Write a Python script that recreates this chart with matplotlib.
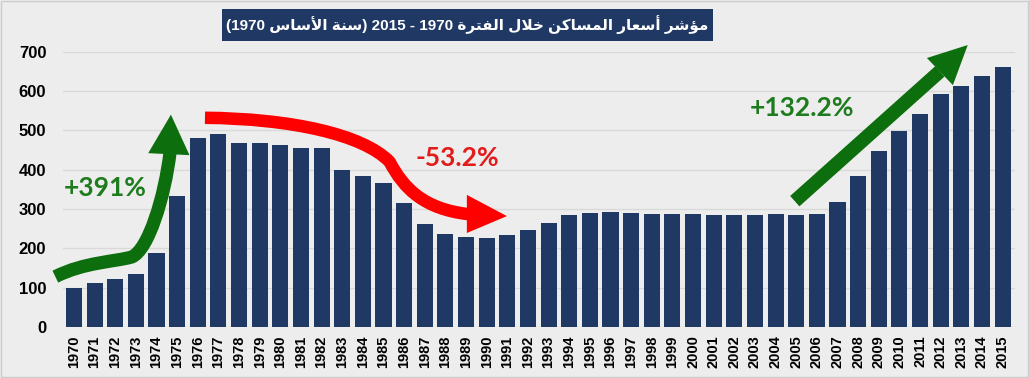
import matplotlib
matplotlib.use("Agg")
import matplotlib.pyplot as plt
import numpy as np
from matplotlib.path import Path
from matplotlib.patches import PathPatch, Polygon, Rectangle

# housing price index, base year 1970 = 100
years = list(range(1970, 2016))
index_values = [100, 112, 123, 135, 189, 333, 481, 491, 468, 468,
                463, 456, 456, 399, 385, 366, 315, 263, 237, 230,
                226, 235, 247, 264, 286, 290, 292, 290, 287, 287,
                287, 285, 285, 285, 287, 285, 287, 318, 384, 447,
                499, 541, 592, 613, 638, 661]

y_ticks = [0, 100, 200, 300, 400, 500, 600, 700]
title = "مؤشر أسعار المساكن خلال الفترة 1970 - 2015 (سنة الأساس 1970)"
labels = ["+391%", "-53.2%", "+132.2%"]

NAVY = "#203864"
BG = "#ededed"
GREEN = "#0d6e0d"
RED = "#ff0000"

# --- tiny arabic shaper (matplotlib has no text shaping) ---
# char -> (isolated form code, dual joining?)
AR = {
    "ا": (0xFE8D, False), "أ": (0xFE83, False), "ؤ": (0xFE85, False),
    "ر": (0xFEAD, False), "ة": (0xFE93, False), "ت": (0xFE95, True),
    "خ": (0xFEA5, True), "س": (0xFEB1, True), "ش": (0xFEB5, True),
    "ع": (0xFEC9, True), "ف": (0xFED1, True), "ك": (0xFED9, True),
    "ل": (0xFEDD, True), "م": (0xFEE1, True), "ن": (0xFEE5, True),
}
LAM_ALEF = {"ا": 0xFEFB, "أ": 0xFEF7}


def shape_arabic(text):
    toks = []
    i = 0
    while i < len(text):
        c = text[i]
        if c == "ل" and i + 1 < len(text) and text[i + 1] in LAM_ALEF:
            toks.append(("LA", LAM_ALEF[text[i + 1]], False))
            i += 2
            continue
        if c in AR:
            toks.append(("AR", AR[c][0], AR[c][1]))
        else:
            toks.append(("X", c, False))
        i += 1
    out = []
    for k, (kind, base, dual) in enumerate(toks):
        if kind == "X":
            out.append(base)
            continue
        prev_joins = k > 0 and toks[k - 1][0] != "X" and toks[k - 1][2]
        next_joins = dual and k + 1 < len(toks) and toks[k + 1][0] != "X"
        if prev_joins and next_joins:
            form = 3
        elif next_joins:
            form = 2
        elif prev_joins:
            form = 1
        else:
            form = 0
        out.append(chr(base + form))
    s = "".join(out)[::-1]
    # put digit runs back in LTR order, mirror brackets
    res, run = "", ""
    for ch in s:
        if ch.isdigit():
            run += ch
        else:
            res += run[::-1] + ch
            run = ""
    res += run[::-1]
    return res.translate(str.maketrans("()", ")("))


fig = plt.figure(figsize=(10.29, 3.78), dpi=100, facecolor=BG)
ax = fig.add_axes([0.0612, 0.1349, 0.9252, 0.7283])
ax.set_facecolor(BG)

x = np.arange(len(years))
ax.bar(x, index_values, width=0.78, color=NAVY, zorder=2)

ax.set_xlim(-0.53, 45.6)
ax.set_ylim(0, 700)
ax.set_yticks(y_ticks)
ax.set_yticklabels([str(v) for v in y_ticks], fontsize=12, fontweight="bold",
                   family="Liberation Sans")
ax.set_xticks(x)
ax.set_xticklabels([str(y) for y in years], rotation=90, fontsize=10.5,
                   fontweight="bold", family="Liberation Sans")
ax.tick_params(length=0, pad=6)
ax.tick_params(axis="y", pad=12)
ax.grid(axis="y", color="#d9d9d9", lw=1, zorder=0)
for s in ax.spines.values():
    s.set_visible(False)

# arrows (shaft as thick path, head as triangle)
def shaft(verts, codes, color, lw):
    p = PathPatch(Path(verts, codes), fill=False, edgecolor=color, lw=lw,
                  capstyle="butt", joinstyle="round", zorder=5, clip_on=False)
    ax.add_patch(p)

def head(pts, color):
    ax.add_patch(Polygon(pts, closed=True, facecolor=color, edgecolor="none",
                         zorder=6, clip_on=False))

C4 = Path.CURVE4
shaft([(-0.9, 128), (0.5, 165), (2.0, 166), (2.8, 178),
       (3.6, 195), (4.4, 330), (4.66, 445)],
      [Path.MOVETO, C4, C4, C4, C4, C4, C4], GREEN, 9.5)
head([(3.6, 442), (5.6, 437), (4.70, 540)], GREEN)

shaft([(6.35, 532), (10.5, 530), (14.0, 490), (15.3, 420),
       (16.0, 350), (17.0, 300), (19.1, 287)],
      [Path.MOVETO, C4, C4, C4, C4, C4, C4], RED, 9)
head([(19.04, 336), (19.04, 239), (20.98, 282)], RED)

shaft([(34.93, 320), (41.96, 650)], [Path.MOVETO, Path.LINETO], GREEN, 10)
head([(41.33, 684), (42.59, 615), (43.31, 717)], GREEN)

ax.text(1.50, 353, labels[0], color="#1e7b1e", fontsize=19, fontweight="bold",
        family="Lato", ha="center", va="center", zorder=7)
ax.text(18.6, 430, labels[1], color="#e21b1b", fontsize=19, fontweight="bold",
        family="Lato", ha="center", va="center", zorder=7)
ax.text(35.27, 557, labels[2], color="#1e7b1e", fontsize=19, fontweight="bold",
        family="Lato", ha="center", va="center", zorder=7)

# title box
fig.patches.append(Rectangle((222 / 1029, 1 - 41 / 378), 491 / 1029, 32 / 378,
                             transform=fig.transFigure, facecolor="#1f3864",
                             edgecolor="none", zorder=3))
fig.text(467.5 / 1029, 1 - 25 / 378, shape_arabic(title), color="white",
         fontsize=11, fontweight="bold",
         family=["Liberation Sans", "DejaVu Sans Condensed", "DejaVu Sans"],
         ha="center", va="center", zorder=4)

# light frame round the picture
fig.patches.append(Rectangle((0.001, 0.002), 0.998, 0.996, transform=fig.transFigure,
                             facecolor="none", edgecolor="#cccccc", lw=1))

fig.savefig("out.png", dpi=100, facecolor=BG)
